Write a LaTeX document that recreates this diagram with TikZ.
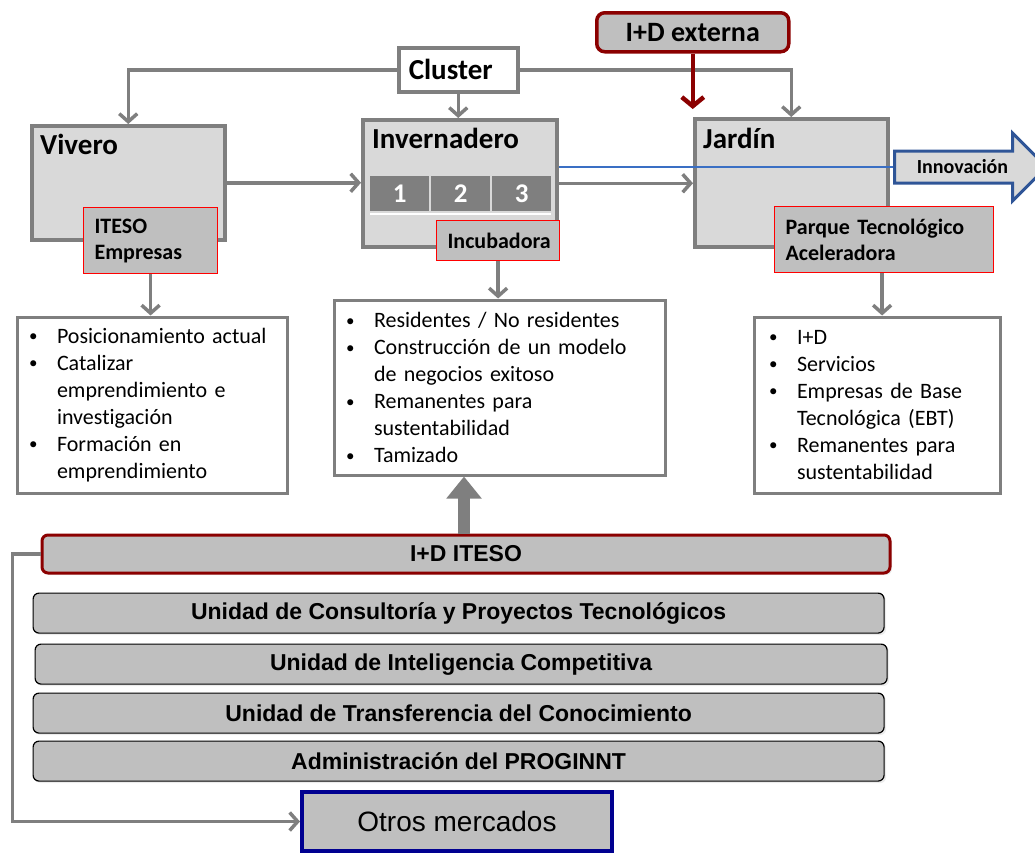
\documentclass[tikz,border=0pt]{standalone}
\usepackage{fontspec}
\setmainfont{Carlito}[Ligatures=NoCommon]
\newfontfamily\arialfont{Liberation Sans}
\usetikzlibrary{arrows.meta}
\usetikzlibrary{shapes.arrows}
\usetikzlibrary{shadows}
\usetikzlibrary{positioning}

\definecolor{boxgray}{HTML}{7F7F7F}
\definecolor{boxfill}{HTML}{D9D9D9}
\definecolor{subfill}{HTML}{BFBFBF}
\definecolor{idred}{HTML}{8B0000}
\definecolor{innblue}{HTML}{2F5597}
\definecolor{lineblue}{HTML}{3A6FC4}
\definecolor{otblue}{HTML}{000090}

\newcommand{\itm}[1]{\makebox[28pt][l]{\raisebox{1.5pt}{\fontsize{17}{17}\selectfont\textbullet}}\mbox{#1}}
\newcommand{\cnt}[1]{\hspace*{28pt}\mbox{#1}}

\tikzset{
  stage/.style={draw=boxgray, line width=3.5pt, fill=boxfill, anchor=north west, inner sep=0pt},
  stagetitle/.style={anchor=base west, inner sep=0pt, font=\bfseries\fontsize{29}{30}\selectfont},
  sub/.style={draw=red, line width=1.2pt, fill=subfill, anchor=north west, inner xsep=11pt, inner ysep=0pt,
    align=left, font=\bfseries\fontsize{22}{26}\selectfont},
  cell/.style={fill=boxgray, text=white, anchor=north west, inner sep=0pt, minimum width=59pt,
    minimum height=35pt, font=\bfseries\fontsize{27}{28}\selectfont},
  listbox/.style={draw=boxgray, line width=3pt, fill=white, anchor=north west, inner xsep=12pt,
    inner ysep=0pt, align=left, font=\fontsize{22}{27}\selectfont},
  unit/.style={draw=black, line width=1.2pt, fill=subfill, rounded corners=6pt, anchor=north west,
    minimum height=40pt, font=\arialfont\bfseries\fontsize{23}{26}\selectfont,
    drop shadow={shadow xshift=2pt, shadow yshift=-2pt, fill=black!15}},
  arr/.style={draw=boxgray, line width=3.5pt, -{Straight Barb[length=8pt,width=18pt]}},
  redarr/.style={draw=idred, line width=4.5pt, -{Straight Barb[length=9pt,width=22pt]}},
  bigarr/.style={draw=boxgray, line width=12pt, -{Triangle[length=22pt,width=34pt]}},
}

\begin{document}
\begin{tikzpicture}[x=1pt, y=-1pt]
  \useasboundingbox (0,0) rectangle (1035,855);
  \clip (0,0) rectangle (1035,855);

  % etapas
  \node[stage, minimum width=193pt, minimum height=114pt] (vivero) at (30,124) {};
  \node[stage, minimum width=194pt, minimum height=127pt] (invern) at (361,118) {};
  \node[stage, minimum width=193pt, minimum height=128pt] (jardin) at (693,117) {};
  \node[stagetitle] (tviv) at ([shift={(10,30)}]vivero.north west) {Vivero};
  \node[stagetitle] (tinv) at ([shift={(11,30)}]invern.north west) {Invernadero};
  \node[stagetitle] (tjar) at ([shift={(10,31)}]jardin.north west) {Jardín};

  \foreach \i in {1,2,3}
    \node[cell] (cell\i) at ({370+(\i-1)*61},176) {\i};
  \draw[white, line width=2pt] ([yshift=-3pt]cell1.south west) -- ([yshift=-3pt]cell3.south east);

  \node[sub, text width=112pt, minimum height=66pt] (iteso) at (83,207) {ITESO\\Empresas};
  \node[sub, text width=101pt, minimum height=40pt] (incub) at (436,220) {Incubadora};
  \node[sub, text width=197pt, minimum height=66pt] (parque) at (774,206) {Parque Tecnológico\\Aceleradora};

  \node[draw=boxgray, line width=3.5pt, fill=white, anchor=north west, minimum width=119pt,
    minimum height=44pt, inner xsep=10pt, text width=99pt, align=left,
    font=\bfseries\fontsize{29}{30}\selectfont] (cluster) at (397,46) {Cluster};
  \node[draw=idred, line width=3.5pt, fill=subfill, rounded corners=8pt, anchor=north west,
    minimum width=192pt, minimum height=39pt, font=\bfseries\fontsize{28}{30}\selectfont] (idext) at (595,11) {I+D externa};

  \node[single arrow, draw=innblue, line width=3pt, fill=boxfill, anchor=tail, minimum height=152pt,
    single arrow head extend=18pt, text height=13pt, text depth=0pt, inner ysep=8pt,
    font=\bfseries\fontsize{20}{22}\selectfont] (innov) at (893,167) {Innovación};
  \draw[lineblue, line width=1.3pt] (innov.tail) -- (innov.tail -| invern.east);

  % listas
  \node[listbox, minimum width=270pt, minimum height=176pt, text width=246pt] (listviv) at (15.5,315.5)
    {\itm{Posicionamiento actual}\\ \itm{Catalizar}\\ \cnt{emprendimiento e}\\ \cnt{investigación}\\
     \itm{Formación en}\\ \cnt{emprendimiento}};
  \node[listbox, minimum width=331pt, minimum height=175pt, text width=307pt] (listinv) at (332.5,298.5)
    {\itm{Residentes / No residentes}\\ \itm{Construcción de un modelo}\\ \cnt{de negocios exitoso}\\
     \itm{Remanentes para}\\ \cnt{sustentabilidad}\\ \itm{Tamizado}};
  \node[listbox, minimum width=246pt, minimum height=176pt, inner xsep=15pt, text width=216pt] (listjar) at (752.5,315.5)
    {\itm{I+D}\\ \itm{Servicios}\\ \itm{Empresas de Base}\\ \cnt{Tecnológica (EBT)}\\
     \itm{Remanentes para}\\ \cnt{sustentabilidad}};

  % unidades
  \node[unit, draw=idred, line width=3pt, minimum width=848pt, minimum height=38pt] (iditeso) at (40.5,533.5) {I+D ITESO};
  \node[unit, minimum width=851pt] (ucons) at (32.5,592.5) {Unidad de Consultoría y Proyectos Tecnológicos};
  \node[unit, minimum width=852pt] (uintel) at (34.5,643.5) {Unidad de Inteligencia Competitiva};
  \node[unit, minimum width=851pt] (utrans) at (32.5,692.5) {Unidad de Transferencia del Conocimiento};
  \node[unit, minimum width=851pt] (admin) at (32.5,740.5) {Administración del PROGINNT};
  \node[draw=otblue, line width=4pt, fill=subfill, anchor=north west, minimum width=310pt,
    minimum height=59pt, font=\arialfont\fontsize{28}{30}\selectfont] (otros) at (300,790) {Otros mercados};

  % conectores
  \draw[arr] (cluster.west) -| (vivero.north);
  \draw[arr] (cluster.east) -| (jardin.north);
  \draw[arr] (cluster.south) -- (cluster.south |- invern.north);
  \draw[arr] (vivero.east) -- (vivero.east -| invern.west);
  \draw[arr] (invern.east) -- (invern.east -| jardin.west);
  \draw[arr] (iteso.south) -- (iteso.south |- listviv.north);
  \draw[arr] (incub.south) -- (incub.south |- listinv.north);
  \draw[arr] ([xshift=-2pt]parque.south) -- ([xshift=-2pt]parque.south |- listjar.north);
  \draw[arr] (iditeso.west) -- ++(-28,0) |- (otros.west);
  \draw[redarr, shorten >=8pt] (idext.south) -- (idext.south |- jardin.north);
  \draw[bigarr] ([xshift=-2pt]iditeso.north) -- ([xshift=-2pt]iditeso.north |- listinv.south);
\end{tikzpicture}
\end{document}
